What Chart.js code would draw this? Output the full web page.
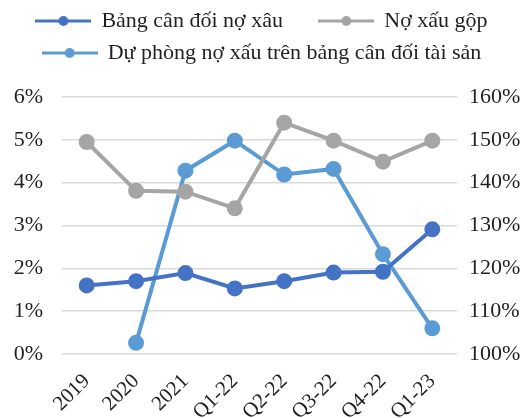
<!DOCTYPE html>
<html>
<head>
<meta charset="utf-8">
<script src="https://cdn.jsdelivr.net/npm/chart.js@4.4.1/dist/chart.umd.min.js"></script>
<style>
  html, body { margin: 0; background: #fff; }
  #wrap { width: 524px; height: 418px; }
</style>
</head>
<body>
<div id="wrap"><canvas id="npl"></canvas></div>
<script>
// Quarterly bad-debt ratios
const periods = ['2019', '2020', '2021', 'Q1-22', 'Q2-22', 'Q3-22', 'Q4-22', 'Q1-23'];
const balanceNpl = [1.60, 1.70, 1.89, 1.53, 1.70, 1.90, 1.92, 2.91];   // left axis, %
const grossNpl   = [4.95, 3.81, 3.79, 3.40, 5.40, 4.98, 4.49, 4.98];   // left axis, %
const coverage   = [null, 102.6, 142.8, 149.8, 141.9, 143.2, 123.3, 106.0]; // right axis, %

const leftTicks  = { min: 0, max: 6, step: 1 };
const rightTicks = { min: 100, max: 160, step: 10 };

const ink = '#231f20';
const serif = 'Liberation Serif';

// line + dot swatch for the legend
function marker(color) {
  const c = document.createElement('canvas');
  c.width = 56; c.height = 14;
  const g = c.getContext('2d');
  g.strokeStyle = color; g.lineWidth = 3;
  g.beginPath(); g.moveTo(0, 7); g.lineTo(56, 7); g.stroke();
  g.fillStyle = color;
  g.beginPath(); g.arc(28, 7, 5, 0, Math.PI * 2); g.fill();
  return c;
}

// extra room between legend and plot
const legendGap = {
  id: 'legendGap',
  beforeInit(chart) {
    const fit = chart.legend.fit;
    chart.legend.fit = function () { fit.call(this); this.height += 23; };
  }
};

const series = (label, data, color, axis) => ({
  label, data, yAxisID: axis,
  borderColor: color, backgroundColor: color,
  borderWidth: 4, pointRadius: 6, pointHoverRadius: 6,
  pointStyle: 'circle', tension: 0, spanGaps: false
});

new Chart(document.getElementById('npl'), {
  type: 'line',
  data: {
    labels: periods,
    datasets: [
      series('Bảng cân đối nợ xâu', balanceNpl, '#4472c4', 'y'),
      series('Nợ xấu gộp', grossNpl, '#a5a5a5', 'y'),
      series('Dự phòng nợ xấu trên bảng cân đối tài sản', coverage, '#5b9bd5', 'y1')
    ]
  },
  plugins: [legendGap],
  options: {
    responsive: true,
    maintainAspectRatio: false,
    animation: false,
    layout: { padding: 0 },
    plugins: {
      tooltip: { enabled: false },
      legend: {
        position: 'top',
        labels: {
          color: ink,
          font: { family: serif, size: 22 },
          usePointStyle: true,
          pointStyleWidth: 54,
          padding: 10,
          generateLabels(chart) {
            return chart.data.datasets.map((ds, i) => ({
              // wider gap after the first entry on the top row
              text: i === 0 ? ds.label + '\u2002\u2002\u2009' : ds.label,
              datasetIndex: i,
              pointStyle: marker(ds.borderColor),
              fillStyle: ds.borderColor,
              strokeStyle: ds.borderColor,
              lineWidth: 0,
              fontColor: ink,
              hidden: false
            }));
          }
        }
      }
    },
    scales: {
      x: {
        offset: true,
        grid: { display: false, offset: true },
        border: { display: false },
        ticks: { color: ink, font: { family: serif, size: 21 }, maxRotation: 45, minRotation: 45, padding: 7 },
        afterFit(s) { s.height = 64; }
      },
      y: {
        position: 'left',
        min: leftTicks.min, max: leftTicks.max,
        border: { display: false },
        grid: { color: '#d9d9d9', lineWidth: 1.5, drawTicks: false },
        ticks: { stepSize: leftTicks.step, padding: 19, color: ink, font: { family: serif, size: 22 }, callback: v => v + '%' },
        afterFit(s) { s.width = 62; }
      },
      y1: {
        position: 'right',
        min: rightTicks.min, max: rightTicks.max,
        border: { display: false },
        grid: { display: false, drawTicks: false },
        ticks: { stepSize: rightTicks.step, padding: 12, color: ink, font: { family: serif, size: 22 }, callback: v => v + '%' },
        afterFit(s) { s.width = 67; }
      }
    }
  }
});
</script>
</body>
</html>
